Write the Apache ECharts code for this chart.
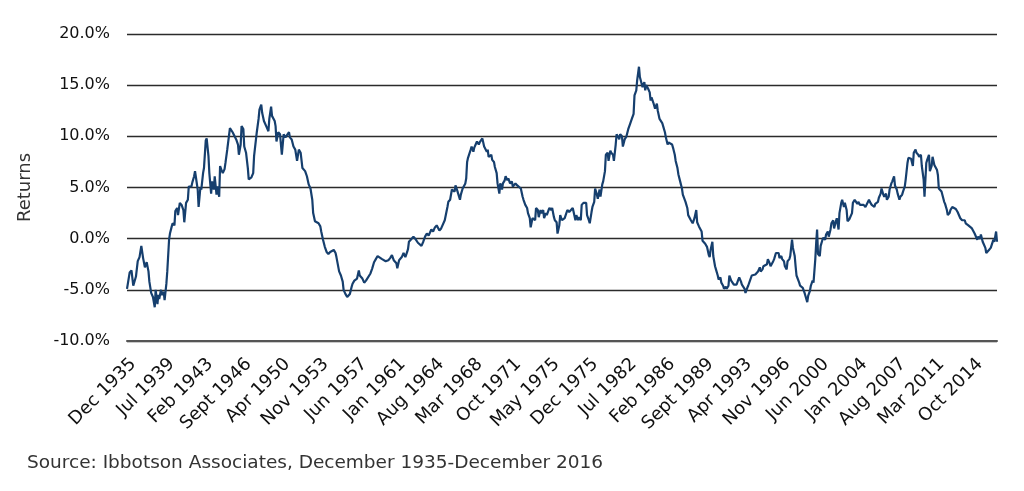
<!DOCTYPE html>
<html>
<head>
<meta charset="utf-8">
<script src="https://cdn.jsdelivr.net/npm/echarts@6/dist/echarts.min.js"></script>
<style>
  html, body { margin: 0; padding: 0; background: #fff; }
  #chart { width: 1024px; height: 491px; }
</style>
</head>
<body>
<div id="chart"></div>
<script>
// x axis: months since Dec 1935, labelled every 43 months
const tickLabels = [
  'Dec 1935', 'Jul 1939', 'Feb 1943', 'Sept 1946', 'Apr 1950', 'Nov 1953',
  'Jun 1957', 'Jan 1961', 'Aug 1964', 'Mar 1968', 'Oct 1971', 'May 1975',
  'Dec 1975', 'Jul 1982', 'Feb 1986', 'Sept 1989', 'Apr 1993', 'Nov 1996',
  'Jun 2000', 'Jan 2004', 'Aug 2007', 'Mar 2011', 'Oct 2014'
]
const TICK_STEP = 43
const LAST_MONTH = 972 // Dec 2016

const yTicks = [-10, -5, 0, 5, 10, 15, 20]

// (months since Dec 1935, return in %)
const months = [
  0, 3, 5, 7, 9, 10, 12, 14, 16, 18, 20, 22, 24, 25, 27, 29, 31, 32, 34, 35, 36, 38, 39, 41, 42, 44, 45, 47, 48, 50,
  51, 53, 54, 56, 57, 59, 61, 63, 64, 66, 68, 69, 72, 73, 75, 76, 77, 79, 80, 82, 83, 85, 86, 88, 89, 91, 92, 94, 95, 97,
  98, 100, 101, 103, 104, 106, 107, 109, 110, 112, 113, 115, 118, 120, 122, 124, 125, 127, 128, 130, 131, 133, 135, 136, 139, 141, 142, 145, 147, 148,
  150, 151, 153, 156, 158, 159, 161, 162, 165, 166, 167, 169, 171, 173, 175, 177, 179, 181, 182, 184, 186, 188, 190, 192, 194, 196, 197, 199, 201, 203,
  205, 207, 208, 210, 212, 214, 216, 217, 219, 221, 223, 225, 227, 229, 231, 233, 234, 237, 239, 241, 242, 244, 246, 248, 249, 251, 252, 254, 257, 259,
  260, 263, 265, 267, 269, 272, 274, 276, 278, 280, 282, 285, 287, 289, 292, 294, 296, 298, 301, 302, 304, 307, 309, 311, 313, 314, 315, 318, 320, 322,
  324, 325, 327, 329, 331, 333, 335, 337, 340, 342, 344, 346, 349, 351, 353, 355, 358, 359, 361, 363, 364, 366, 367, 369, 370, 372, 373, 375, 378, 379,
  380, 381, 384, 385, 387, 388, 390, 391, 393, 394, 396, 397, 399, 400, 402, 403, 404, 407, 408, 410, 411, 413, 414, 416, 417, 419, 420, 422, 423, 425,
  426, 428, 430, 431, 434, 436, 438, 440, 442, 443, 445, 447, 448, 450, 451, 453, 454, 456, 457, 459, 460, 462, 463, 465, 466, 468, 469, 471, 472, 474,
  475, 477, 478, 480, 481, 483, 484, 486, 488, 489, 490, 492, 494, 496, 498, 499, 501, 502, 504, 505, 507, 508, 510, 511, 513, 514, 516, 517, 519, 520,
  522, 523, 525, 526, 528, 529, 531, 532, 534, 535, 537, 538, 540, 541, 543, 544, 546, 547, 549, 550, 551, 553, 554, 556, 558, 560, 562, 564, 566, 567,
  569, 570, 572, 573, 575, 576, 578, 579, 580, 582, 584, 585, 586, 588, 590, 592, 593, 595, 596, 598, 599, 601, 602, 604, 605, 607, 609, 610, 612, 613,
  615, 616, 618, 620, 621, 624, 626, 627, 630, 632, 634, 636, 637, 639, 640, 642, 643, 645, 646, 648, 650, 651, 652, 654, 655, 657, 658, 660, 661, 663,
  664, 666, 667, 669, 670, 672, 673, 675, 676, 678, 679, 681, 683, 684, 686, 687, 690, 691, 693, 694, 696, 698, 700, 702, 705, 707, 708, 710, 711, 713,
  715, 716, 718, 719, 722, 723, 725, 726, 728, 729, 731, 732, 734, 735, 737, 738, 740, 741, 743, 744, 746, 747, 748, 751, 752, 754, 755, 757, 758, 760,
  761, 763, 764, 766, 767, 769, 770, 771, 772, 774, 775, 777, 778, 780, 781, 783, 784, 786, 787, 789, 790, 792, 793, 795, 796, 798, 799, 801, 802, 804,
  805, 807, 808, 810, 811, 813, 814, 816, 817, 819, 820, 823, 825, 827, 829, 830, 832, 833, 835, 836, 838, 839, 840, 842, 843, 845, 846, 848, 849, 851,
  852, 854, 855, 857, 858, 860, 861, 863, 864, 866, 867, 869, 870, 872, 873, 875, 876, 878, 879, 881, 882, 884, 885, 887, 888, 890, 891, 893, 894, 896,
  897, 899, 900, 902, 903, 905, 906, 907, 908, 910, 911, 913, 914, 916, 917, 919, 920, 922, 924, 926, 928, 929, 931, 933, 934, 936, 937, 940, 942, 944,
  945, 947, 948, 950, 951, 953, 954, 956, 957, 959, 960, 962, 963, 965, 966, 968, 969, 970, 971, 972
]
const returns = [
  -4.9, -3.3, -3.1, -4.6, -4.7, -3.7, -2.2, -1.8, -0.7, -1.9, -2.8, -2.3, -3.2, -4.2, -5.3, -5.7, -6.7, -5.0, -6.4, -5.5, -5.9, -5.0, -5.5, -5.2, -6.0, -4.4, -3.2, -0.1, 0.5, 1.2,
  1.5, 1.3, 2.7, 3.0, 2.3, 3.5, 3.3, 2.8, 1.6, 3.5, 3.8, 5.1, 5.1, 5.5, 6.1, 6.6, 6.0, 4.8, 3.1, 5.0, 4.8, 6.4, 6.9, 9.6, 9.8, 8.1, 6.4, 4.4, 5.6, 4.8,
  6.1, 4.3, 5.1, 4.1, 7.1, 6.6, 6.4, 6.8, 7.4, 8.7, 9.4, 10.8, 10.4, 10.4, 9.7, 9.2, 8.2, 9.2, 11.0, 10.7, 9.0, 8.4, 6.9, 5.8, 6.0, 6.4, 8.1, 10.4, 11.7, 12.6,
  13.1, 12.3, 11.5, 10.9, 10.5, 11.7, 12.9, 12.0, 11.5, 11.0, 9.5, 10.4, 10.2, 8.2, 10.2, 9.9, 10.0, 10.4, 9.9, 9.7, 9.0, 8.7, 7.6, 8.7, 8.4, 6.9, 7.0, 6.6, 6.1, 5.3,
  4.9, 3.8, 2.5, 1.7, 1.7, 1.5, 1.2, 0.7, -0.1, -0.8, -1.3, -1.5, -1.3, -1.4, -1.1, -1.4, -1.8, -3.2, -3.6, -4.2, -5.0, -5.4, -5.7, -5.8, -5.4, -4.7, -4.4, -4.1, -3.9, -3.1,
  -3.6, -3.9, -4.3, -4.1, -4.0, -3.4, -2.9, -2.3, -2.0, -1.7, -1.8, -2.0, -2.1, -2.2, -2.1, -1.9, -1.6, -2.1, -2.4, -2.9, -2.1, -1.8, -1.4, -1.8, -1.3, -1.0, -0.3, 0.0, 0.2, 0.0,
  -0.1, -0.4, -0.5, -0.7, -0.3, 0.2, 0.5, 0.3, 0.9, 0.7, 1.1, 1.3, 0.8, 1.0, 1.1, 1.8, 3.1, 3.6, 3.8, 4.8, 4.9, 4.6, 5.2, 4.7, 4.6, 3.8, 4.3, 4.9, 5.4, 5.9,
  7.5, 7.9, 8.7, 9.0, 8.5, 8.9, 9.3, 9.5, 9.2, 9.4, 9.5, 9.8, 9.0, 8.9, 8.5, 8.7, 8.0, 8.2, 7.7, 7.5, 7.0, 6.4, 5.4, 4.4, 5.4, 4.8, 5.4, 5.7, 6.1, 5.7,
  5.9, 5.4, 5.6, 5.1, 5.4, 5.2, 5.2, 4.9, 4.1, 3.8, 3.3, 3.0, 2.5, 2.0, 1.1, 2.0, 2.1, 1.8, 3.0, 2.8, 2.1, 2.8, 2.5, 2.8, 2.0, 2.5, 2.3, 2.8, 3.0, 2.8,
  3.0, 2.1, 1.8, 1.6, 0.5, 1.3, 2.3, 1.8, 1.8, 2.0, 2.1, 2.8, 2.6, 2.8, 3.0, 2.6, 1.8, 2.3, 1.8, 2.1, 1.8, 3.3, 3.5, 3.6, 3.5, 2.3, 1.8, 1.5, 2.6, 3.1,
  3.6, 4.9, 4.3, 3.9, 4.8, 4.1, 5.3, 5.6, 6.6, 8.2, 8.4, 7.6, 8.6, 8.4, 8.2, 7.6, 9.2, 10.2, 9.9, 9.7, 10.2, 10.0, 9.0, 9.7, 10.0, 10.7, 11.2, 11.7, 12.2, 14.0,
  14.5, 15.5, 16.8, 15.8, 15.9, 14.8, 15.3, 14.5, 15.0, 14.7, 14.3, 13.5, 13.8, 13.3, 12.7, 13.2, 12.5, 11.7, 11.7, 11.3, 11.0, 10.4, 9.9, 9.2, 9.4, 9.4, 9.2, 8.9, 8.2, 7.6,
  6.9, 6.3, 5.6, 4.9, 4.3, 3.6, 3.0, 2.3, 1.8, 1.5, 2.0, 2.8, 1.6, 1.2, 1.2, 0.7, -0.2, -0.3, -0.5, -0.8, -1.6, -1.8, -1.1, -0.3, -1.7, -2.7, -3.0, -3.6, -4.0, -3.8,
  -4.3, -4.6, -4.9, -4.7, -4.9, -4.6, -3.6, -4.1, -4.0, -4.5, -4.6, -4.5, -4.0, -3.8, -4.2, -4.5, -4.9, -5.3, -4.8, -4.6, -4.1, -3.6, -3.5, -3.5, -3.2, -2.8, -3.2, -3.0, -2.7, -2.8,
  -2.5, -2.0, -2.4, -2.7, -2.2, -2.0, -1.4, -1.5, -1.4, -1.9, -1.7, -2.0, -2.2, -2.7, -3.0, -2.2, -2.0, -1.7, -0.1, -0.9, -1.7, -2.7, -3.6, -4.3, -4.6, -4.5, -4.8, -5.3, -5.6, -6.2,
  -5.6, -5.1, -4.6, -4.1, -4.3, -2.0, -0.4, 0.9, -1.5, -1.7, -0.7, -0.1, 0.1, -0.1, 0.4, 0.7, 0.2, 0.9, 1.5, 1.8, 1.0, 1.7, 2.0, 0.9, 2.5, 3.5, 3.8, 3.1, 3.5, 2.8,
  1.7, 1.9, 2.0, 2.5, 3.5, 3.8, 3.8, 3.4, 3.6, 3.3, 3.3, 3.3, 3.1, 3.1, 3.8, 3.6, 3.3, 3.4, 3.1, 3.4, 3.3, 3.6, 4.0, 4.4, 4.9, 4.3, 4.1, 4.4, 3.8, 4.1,
  4.8, 5.4, 5.6, 6.1, 5.2, 4.8, 4.4, 3.8, 4.1, 4.3, 4.6, 5.1, 5.8, 7.4, 7.9, 8.0, 7.8, 7.1, 8.4, 8.7, 8.4, 8.2, 8.0, 8.2, 7.1, 5.8, 4.1, 7.4, 7.7, 8.2,
  6.6, 7.1, 8.0, 7.2, 7.1, 6.7, 6.2, 4.9, 4.8, 4.6, 4.5, 3.6, 3.4, 2.8, 2.3, 2.5, 2.8, 3.1, 3.1, 2.9, 2.6, 2.5, 2.0, 1.8, 1.8, 1.8, 1.5, 1.3, 1.2, 1.0,
  1.0, 0.5, 0.4, -0.1, 0.2, 0.0, 0.4, -0.3, -0.5, -0.9, -1.4, -1.3, -1.1, -0.9, -0.9, -0.1, -0.3, 0.2, 0.7, -0.3
]

const FONT = 'DejaVu Sans'

const chart = echarts.init(document.getElementById('chart'))

chart.setOption({
  animation: false,
  grid: { left: 127, right: 27, top: 34, bottom: 150 },
  xAxis: {
    type: 'value',
    min: 0,
    max: LAST_MONTH,
    interval: TICK_STEP,
    axisLine: { onZero: false, lineStyle: { color: '#555', width: 2 } },
    axisTick: { show: false },
    splitLine: { show: false },
    axisLabel: {
      rotate: 45,
      margin: 14,
      verticalAlign: 'top',
      fontFamily: FONT,
      fontSize: 18,
      color: '#111',
      formatter: v => (v % TICK_STEP === 0 ? tickLabels[v / TICK_STEP] : ''),
    },
  },
  yAxis: {
    type: 'value',
    min: yTicks[0],
    max: yTicks[yTicks.length - 1],
    interval: 5,
    name: 'Returns',
    nameLocation: 'middle',
    nameRotate: 90,
    nameGap: 93,
    nameTextStyle: { fontFamily: FONT, fontSize: 18, color: '#333' },
    axisLine: { show: false },
    axisTick: { show: false },
    splitLine: { lineStyle: { color: '#2b2b2b', width: 1.3 } },
    axisLabel: {
      margin: 17,
      fontFamily: FONT,
      fontSize: 16,
      color: '#111',
      formatter: v => v.toFixed(1) + '%',
    },
  },
  graphic: [
    {
      type: 'text',
      left: 27,
      top: 454,
      style: {
        text: 'Source: Ibbotson Associates, December 1935-December 2016',
        font: '18.5px "DejaVu Sans"',
        fill: '#333',
      },
    },
  ],
  series: [
    {
      type: 'line',
      data: months.map((m, i) => [m, returns[i]]),
      showSymbol: false,
      lineStyle: { color: '#163f6e', width: 2.2 },
    },
  ],
})
</script>
</body>
</html>
